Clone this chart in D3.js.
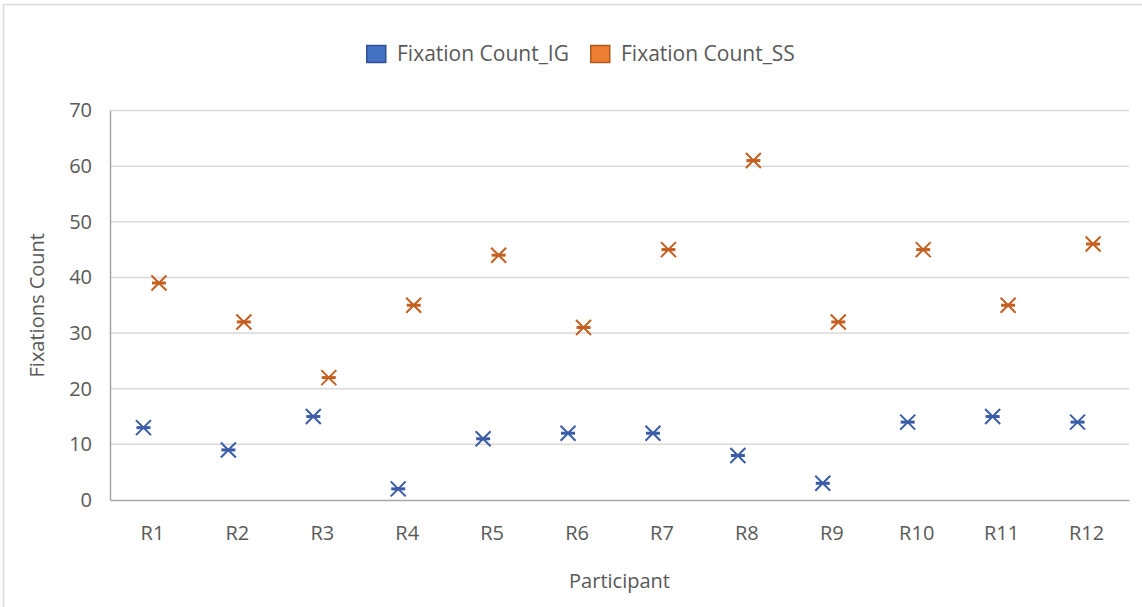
<!DOCTYPE html>
<html>
<head>
<meta charset="utf-8">
<script src="https://cdn.jsdelivr.net/npm/d3@7"></script>
<style>
  html, body { margin: 0; padding: 0; background: #fff; }
  svg { display: block; }
  text { font-family: "Open Sans", "Liberation Sans", sans-serif; fill: #595959; }
</style>
</head>
<body>
<svg id="chart" width="1142" height="607"></svg>
<script>
// Participants and fixation counts per condition
const participants = ["R1", "R2", "R3", "R4", "R5", "R6", "R7", "R8", "R9", "R10", "R11", "R12"];
const fixationIG = [13, 9, 15, 2, 11, 12, 12, 8, 3, 14, 15, 14];
const fixationSS = [39, 32, 22, 35, 44, 31, 45, 61, 32, 45, 35, 46];
const seriesNames = ["Fixation Count_IG", "Fixation Count_SS"];
const yTicks = [0, 10, 20, 30, 40, 50, 60, 70];

const W = 1142, H = 607;
const plot = { left: 110, right: 1129, top: 110.5, bottom: 500 };
const FS = "20px";

const svg = d3.select("#chart");

// chart frame (only top/left edges visible in the view)
svg.append("path")
  .attr("d", `M3.5,${H} V4.5 H${W}`)
  .attr("fill", "none").attr("stroke", "#d9d9d9").attr("stroke-width", 1.5);

const x = d3.scaleBand().domain(participants).range([plot.left, plot.right]);
const y = d3.scaleLinear().domain([0, 70]).range([plot.bottom, plot.top]);

// gridlines
svg.append("g").selectAll("line")
  .data(yTicks.filter(d => d > 0))
  .join("line")
  .attr("x1", plot.left).attr("x2", plot.right)
  .attr("y1", d => y(d)).attr("y2", d => y(d))
  .attr("stroke", "#d9d9d9").attr("stroke-width", 1.5);

// y axis
const yAxis = svg.append("g")
  .attr("transform", `translate(${plot.left},0)`)
  .call(d3.axisLeft(y).tickValues(yTicks).tickSize(0).tickPadding(18));
yAxis.select(".domain").attr("stroke", "#a6a6a6").attr("stroke-width", 1.5);
yAxis.selectAll("text").style("font-size", FS).attr("fill", "#595959")
  .style("font-family", "'Open Sans', sans-serif");

// x axis
const xAxis = svg.append("g")
  .attr("transform", `translate(0,${plot.bottom})`)
  .call(d3.axisBottom(x).tickSize(0).tickPadding(26));
xAxis.select(".domain").attr("stroke", "#a6a6a6").attr("stroke-width", 1.5);
xAxis.selectAll("text").style("font-size", FS).attr("fill", "#595959")
  .style("font-family", "'Open Sans', sans-serif");

// axis titles
svg.append("text")
  .attr("x", (plot.left + plot.right) / 2).attr("y", 588)
  .attr("text-anchor", "middle").style("font-size", FS)
  .text("Participant");
svg.append("text")
  .attr("transform", `translate(44,${(plot.top + plot.bottom) / 2}) rotate(-90)`)
  .attr("text-anchor", "middle").style("font-size", FS)
  .text("Fixations Count");

// star-like "x with bar" marker
function marker(g, cx, cy, color) {
  const r = 7.5;
  g.append("path")
    .attr("d", `M${cx - r},${cy - r}L${cx + r},${cy + r}M${cx - r},${cy + r}L${cx + r},${cy - r}`)
    .attr("stroke", color).attr("stroke-width", 2).attr("fill", "none");
  g.append("line")
    .attr("x1", cx - 7).attr("x2", cx + 7).attr("y1", cy).attr("y2", cy)
    .attr("stroke", color).attr("stroke-width", 3);
}

const series = [
  { values: fixationIG, color: "#3a5ca8", fill: "#4472c4", stroke: "#2f528f", dx: -9 },
  { values: fixationSS, color: "#c55f1f", fill: "#ed7d31", stroke: "#ae5a21", dx: 6.5 }
];

series.forEach(s => {
  const g = svg.append("g");
  s.values.forEach((v, i) => {
    marker(g, x(participants[i]) + x.bandwidth() / 2 + s.dx, y(v), s.color);
  });
});

// legend
const legendItems = [
  { name: seriesNames[0], x: 366, s: series[0] },
  { name: seriesNames[1], x: 590, s: series[1] }
];
const lg = svg.append("g");
legendItems.forEach(it => {
  lg.append("rect")
    .attr("x", it.x + 0.75).attr("y", 45.5).attr("width", 19).attr("height", 17)
    .attr("fill", it.s.fill).attr("stroke", it.s.stroke).attr("stroke-width", 1.5);
  lg.append("text")
    .attr("x", it.x + 31).attr("y", 61)
    .style("font-size", "21px")
    .text(it.name);
});
</script>
</body>
</html>
